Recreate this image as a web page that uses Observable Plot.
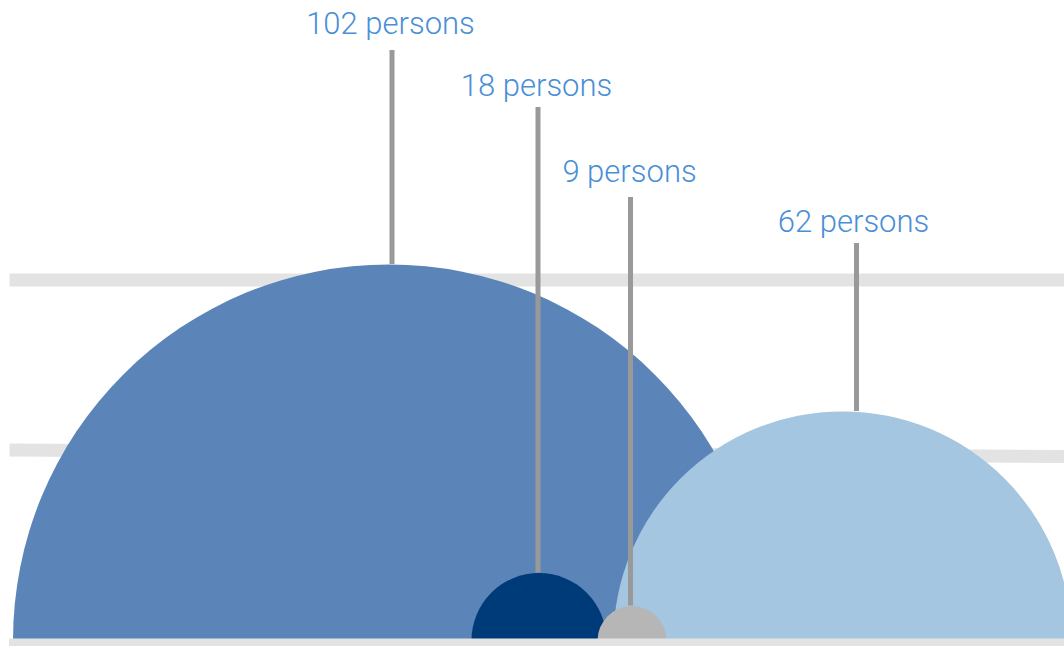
<!DOCTYPE html>
<html><head><meta charset="utf-8">
<script src="https://cdn.jsdelivr.net/npm/d3@7"></script>
<script src="https://cdn.jsdelivr.net/npm/@observablehq/plot@0.6"></script>
<style>html,body{margin:0;padding:0;background:#fff;overflow:hidden;}</style>
</head><body><div id="chart"></div>
<script>
// ---- data ----
const groups = ["Group A", "Group B", "Group C", "Group D"];
const persons = [102, 18, 9, 62];
const labels = persons.map(d => `${d} persons`);

// ---- layout (chart units: x 0..1064, y = units above baseline) ----
const centerX = [388.5, 538.5, 631.5, 842];
const leaderX = [391.5, 537.5, 630, 856];
const leaderTop = [590, 533, 443, 397];
const labelX = [390, 536, 629, 853];
const labelY = [607, 545, 459, 409];
const fills = ["#5b85b9", "#003b79", "#b6b6b6", "#a4c6e0"];
const drawOrder = [0, 3, 1, 2];
const gridX1 = [9, 9], gridX2 = [1064, 1064];
const gridY1 = [360.5, 190.5], gridY2 = [360.5, 184];
const baseY = -4.5;

const rOpts = {type: "linear", domain: [0, 102], range: [1.4, 376]};
const rScale = Plot.scale({r: rOpts});

const rows = groups.map((g, i) => ({
  group: g, persons: persons[i], label: labels[i],
  cx: centerX[i], lx: leaderX[i], lt: leaderTop[i],
  tx: labelX[i], ty: labelY[i], fill: fills[i],
  top: rScale.apply(persons[i])
}));
const ordered = drawOrder.map(i => rows[i]);
const grid = gridY1.map((y, i) => ({x1: gridX1[i], x2: gridX2[i], y1: y, y2: gridY2[i]}));

const chart = Plot.plot({
  width: 1064, height: 646,
  marginLeft: 0, marginRight: 0, marginTop: 0, marginBottom: 6,
  x: {domain: [0, 1064], axis: null},
  y: {domain: [0, 640], axis: null},
  r: rOpts,
  style: {background: "#fff", overflow: "hidden"},
  marks: [
    Plot.link(grid, {x1: "x1", x2: "x2", y1: "y1", y2: "y2", stroke: "#e3e3e3", strokeWidth: 13}),
    Plot.dot(ordered, {x: "cx", y: 0, r: "persons", fill: "fill", stroke: null, clip: "frame"}),
    Plot.ruleY([baseY], {x1: gridX1[0], x2: gridX2[0], stroke: "#e3e3e3", strokeWidth: 13}),
    Plot.ruleX(rows, {x: "lx", y1: "top", y2: "lt", stroke: "#999999", strokeWidth: 5}),
    Plot.text(rows, {x: "tx", y: "ty", text: "label", fill: "#4a8fd6",
      fontSize: 31, fontWeight: 300, fontFamily: "Roboto, Lato, 'Open Sans', sans-serif",
      lineAnchor: "bottom", textAnchor: "middle"})
  ]
});
document.getElementById("chart").appendChild(chart);
</script>
</body></html>
